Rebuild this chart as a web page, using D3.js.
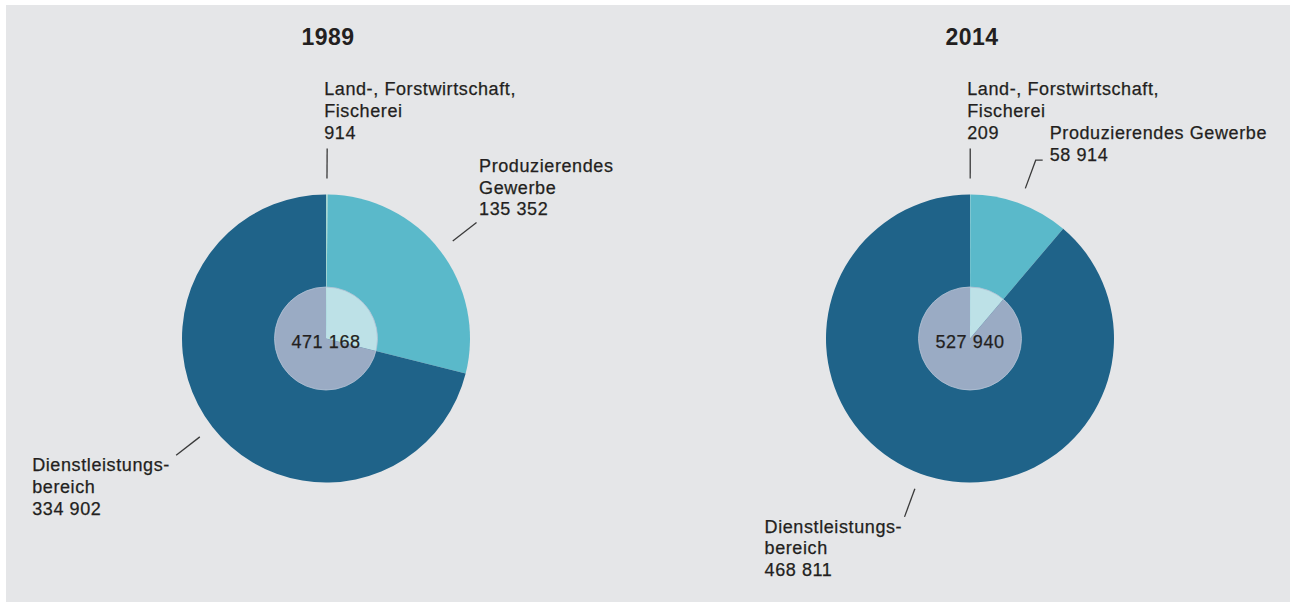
<!DOCTYPE html>
<html>
<head>
<meta charset="utf-8">
<script src="https://cdn.jsdelivr.net/npm/d3@7"></script>
<style>
  html, body { margin: 0; padding: 0; background: #ffffff; }
  svg { display: block; }
  text { font-family: "Liberation Sans", Arial, Helvetica, sans-serif; fill: #231f20; }
  text.lbl { font-size: 18px; letter-spacing: 0.6px; stroke: #231f20; stroke-width: 0.25px; }
</style>
</head>
<body>
<svg id="chart" width="1291" height="603"></svg>
<script>
// ---- data ----
const categories = ["Land-, Forstwirtschaft, Fischerei", "Produzierendes Gewerbe", "Dienstleistungsbereich"];
const years = ["1989", "2014"];
const values1989 = [914, 135352, 334902];
const values2014 = [209, 58914, 468811];
const totals = [471168, 527940];
const labelLines1989 = [["Land-, Forstwirtschaft,", "Fischerei"], ["Produzierendes", "Gewerbe"], ["Dienstleistungs-", "bereich"]];
const labelLines2014 = [["Land-, Forstwirtschaft,", "Fischerei"], ["Produzierendes Gewerbe"], ["Dienstleistungs-", "bereich"]];

// ---- styling / layout ----
const W = 1291, H = 603;
const R = 144, rInner = 51.5;
const colors = ["#a6d6cf", "#5ab9ca", "#1f6389"];
const innerColors = ["#d3ebe8", "#bde1e7", "#9aabc4"];
const lineH = 21.6;
const fmt = d3.formatLocale({ decimal: ",", thousands: " ", grouping: [3], currency: ["", "€"] }).format(",d");

const svg = d3.select("#chart");
svg.append("rect").attr("x", 6).attr("y", 5).attr("width", 1284).attr("height", 597).attr("fill", "#e5e6e8");

const charts = [
  { year: years[0], values: values1989, total: totals[0], lines: labelLines1989, cx: 326, cy: 338.5,
    place: [ { dx: -3, lastDy: -10 }, { dx: 2.5, lastDy: -7.5 }, { dx: -144, firstDy: 16 } ],
    bend: [0, 0, 0] },
  { year: years[1], values: values2014, total: totals[1], lines: labelLines2014, cx: 970, cy: 338.5,
    place: [ { dx: -3, lastDy: -10 }, { dx: 14, lastDy: 0.5 }, { dx: -140, firstDy: 16 } ],
    bend: [0, 7, 0] }
];

const pie = d3.pie().sort(null).value(d => d);
const arcOuter = d3.arc().innerRadius(0).outerRadius(R);
const arcInner = d3.arc().innerRadius(0).outerRadius(rInner);

charts.forEach(c => {
  const g = svg.append("g").attr("transform", `translate(${c.cx},${c.cy})`);
  const arcs = pie(c.values);

  g.selectAll("path.outer").data(arcs).join("path")
    .attr("class", "outer")
    .attr("d", arcOuter)
    .attr("fill", (d, i) => colors[i]);

  g.selectAll("path.inner").data(arcs).join("path")
    .attr("class", "inner")
    .attr("d", arcInner)
    .attr("fill", (d, i) => innerColors[i]);

  g.append("circle").attr("r", rInner).attr("fill", "none")
    .attr("stroke", "#b4c3d6").attr("stroke-width", 1).attr("stroke-opacity", 0.8);

  g.append("text").attr("class", "lbl").attr("text-anchor", "middle").attr("y", 9)
    .text(fmt(c.total));

  svg.append("text").attr("x", c.cx + 2).attr("y", 45).attr("text-anchor", "middle")
    .style("font-size", "23px").style("font-weight", "bold").style("letter-spacing", "0.5px")
    .text(c.year);

  arcs.forEach((a, i) => {
    const mid = (a.startAngle + a.endAngle) / 2;
    const p = r => [r * Math.sin(mid), -r * Math.cos(mid)];
    const p1 = p(160), p2 = p(190);
    const pts = [p1, p2];
    if (c.bend[i]) pts.push([p2[0] + c.bend[i], p2[1]]);
    g.append("path").attr("d", d3.line()(pts)).attr("fill", "none")
      .attr("stroke", "#3a3a3a").attr("stroke-width", 1.3);

    const lines = c.lines[i].concat([fmt(c.values[i])]);
    const pl = c.place[i];
    const x = p2[0] + pl.dx;
    const firstY = pl.firstDy !== undefined ? p2[1] + pl.firstDy : p2[1] + pl.lastDy - (lines.length - 1) * lineH;
    const t = g.append("text").attr("class", "lbl").attr("x", x).attr("y", firstY);
    lines.forEach((s, k) => {
      t.append("tspan").attr("x", x).attr("y", firstY + k * lineH).text(s);
    });
  });
});
</script>
</body>
</html>
